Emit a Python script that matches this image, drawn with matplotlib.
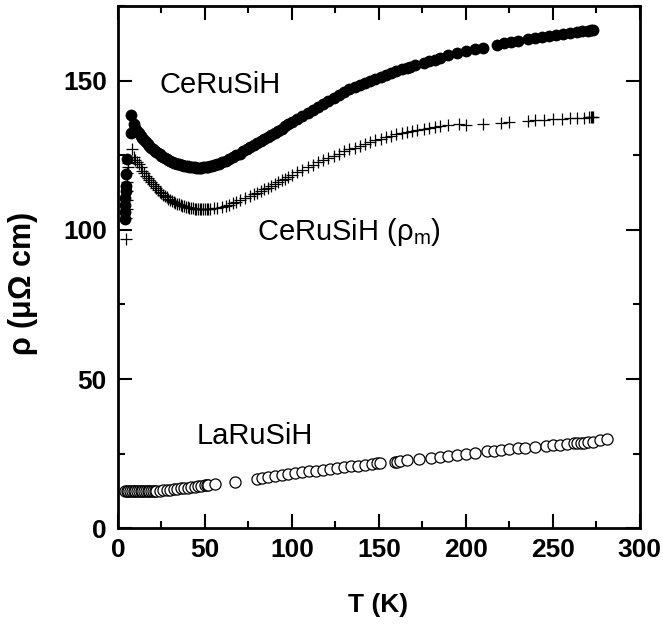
import matplotlib
matplotlib.use("Agg")
import matplotlib.pyplot as plt
from matplotlib.ticker import MultipleLocator

# CeRuSiH, total resistivity (filled circles)
ce_T = [4.0, 4.1, 4.2, 4.3, 4.4, 4.6, 4.8, 5.2, 7.2, 7.6,
        9, 10, 11, 12, 13, 14, 15, 16, 17, 18, 19, 20, 21, 22, 23, 24, 25,
        26, 27, 28, 29, 30, 31, 32, 33, 34, 35, 36, 37, 38, 39, 40, 41, 42,
        43, 44, 45, 46, 47, 48, 49, 50, 51, 52, 53, 54, 55, 56, 57, 58, 60,
        62, 64, 66, 68, 70, 72, 74, 76, 78, 80, 82, 84, 86, 88, 90, 92, 94,
        96, 98, 100, 103, 106, 109, 112, 115, 118, 121, 124, 127, 130, 133,
        136, 139, 142, 145, 148, 151, 154, 157, 160, 163, 166, 168, 171, 176,
        179, 182, 185, 190, 195, 200, 205, 210, 218, 222, 226, 230, 236, 240,
        244, 248, 252, 256, 260, 264, 267, 270, 272, 273]
ce_rho = [103.8, 106.0, 108.5, 110.8, 113.0, 114.8, 118.8, 123.9, 132.6, 138.5,
          135.5, 134.3, 133.3, 132.4, 131.6, 130.8, 130.1, 129.4, 128.8, 128.2,
          127.6, 127.1, 126.6, 126.1, 125.7, 125.3, 124.9, 124.5, 124.1, 123.8,
          123.5, 123.2, 122.9, 122.6, 122.4, 122.2, 122.0, 121.8, 121.6, 121.5,
          121.4, 121.3, 121.2, 121.1, 121.0, 121.0, 120.9, 120.9, 120.9, 120.9,
          121.0, 121.0, 121.1, 121.2, 121.3, 121.5, 121.6, 121.8, 122.0, 122.2,
          122.7, 123.2, 123.8, 124.4, 125.0, 125.6, 126.3, 127.0, 127.7, 128.4,
          129.1, 129.8, 130.5, 131.2, 131.9, 132.6, 133.3, 134.0, 134.7, 135.4,
          136.1, 137.1, 138.2, 139.2, 140.3, 141.3, 142.3, 143.3, 144.3, 145.3,
          146.2, 147.1, 147.9, 148.7, 149.4, 150.0, 150.7, 151.4, 152.0, 152.6,
          153.2, 153.8, 154.3, 154.7, 155.2, 156.1, 156.7, 157.1, 157.6, 158.5,
          159.3, 160.0, 160.6, 161.1, 162.1, 162.6, 163.0, 163.4, 163.9, 164.3,
          164.7, 165.1, 165.4, 165.7, 166.0, 166.3, 166.6, 166.8, 167.0, 167.1]

# CeRuSiH, magnetic contribution rho_m (crosses)
rm_T = [4.6, 4.8, 5.0, 5.1, 5.2, 5.3, 5.4, 5.6, 5.8,
        8, 9, 10, 11, 12, 13, 14, 15, 16, 17, 18, 19, 20, 21, 22, 23, 24, 25,
        26, 27, 28, 29, 30, 31, 32, 33, 34, 35, 36, 37, 38, 39, 40, 41, 42,
        43, 44, 45, 46, 47, 48, 49, 50, 51, 52, 53, 55, 57, 60, 62, 64, 66,
        68, 70, 73, 76, 78, 80, 82, 84, 86, 88, 90, 92, 94, 96, 98, 100, 103,
        106, 109, 112, 115, 118, 121, 124, 127, 130, 133, 136, 139, 142, 145,
        148, 151, 154, 157, 160, 163, 166, 169, 172, 176, 179, 182, 185, 190,
        196, 200, 210, 220, 225, 236, 240, 245, 250, 255, 260, 264, 268, 271,
        272, 272.5, 273]
rm_rho = [97.0, 104.0, 107.0, 110.0, 113.0, 116.0, 119.0, 121.0, 122.5,
          127.0, 124.5, 123.5, 122.8, 122.0, 121.0, 119.8, 119.0, 118.2, 117.4,
          116.7, 116.0, 115.3, 114.7, 114.0, 113.4, 112.8, 112.3, 111.8, 111.3,
          110.9, 110.5, 110.1, 109.8, 109.4, 109.1, 108.8, 108.6, 108.3, 108.1,
          107.9, 107.7, 107.6, 107.4, 107.3, 107.2, 107.1, 107.0, 107.0, 106.9,
          106.9, 106.9, 106.9, 106.9, 107.0, 107.0, 107.2, 107.4, 107.8, 108.1,
          108.5, 108.9, 109.4, 109.9, 110.7, 111.4, 111.9, 112.4, 113.0, 113.6,
          114.2, 114.8, 115.4, 116.0, 116.6, 117.2, 117.8, 118.4, 119.3, 120.2,
          121.0, 121.9, 122.7, 123.5, 124.2, 124.9, 125.6, 126.3, 127.0, 127.6,
          128.2, 128.8, 129.4, 130.0, 130.5, 131.0, 131.5, 132.0, 132.4, 132.8,
          133.2, 133.5, 133.9, 134.2, 134.5, 134.8, 135.2, 135.6, 135.3, 135.6,
          136.0, 136.2, 136.6, 136.8, 137.0, 137.1, 137.3, 137.4, 137.5, 137.6,
          137.7, 137.8, 137.8, 137.8]

# LaRuSiH (open circles)
la_T = [4, 5, 6, 7, 8, 9, 10, 11, 12, 13, 14, 15, 16, 17, 18, 19, 20, 21,
        22, 24, 26, 28, 30, 32, 34, 36, 38, 40, 42, 44, 46, 48, 50, 51, 52,
        55.5, 67, 80, 83, 86, 90, 94, 98, 102, 106, 110, 114, 118, 122, 126,
        130, 134, 138, 142, 146, 149, 150.5, 159, 160.5, 162, 166, 173, 180,
        185, 190, 195, 200, 205, 212, 216, 220, 225, 230, 234, 240, 246, 250,
        254, 258, 262, 264, 266, 268, 270, 273, 277, 281]
la_rho = [12.3, 12.3, 12.3, 12.3, 12.3, 12.3, 12.3, 12.3, 12.4, 12.4, 12.4,
          12.4, 12.4, 12.4, 12.5, 12.5, 12.5, 12.5, 12.6, 12.6, 12.7, 12.8,
          12.9, 13.0, 13.1, 13.3, 13.4, 13.5, 13.7, 13.8, 14.0, 14.1, 14.3,
          14.4, 14.4, 14.8, 15.6, 16.6, 16.9, 17.2, 17.5, 17.8, 18.1, 18.4,
          18.7, 19.0, 19.3, 19.6, 19.9, 20.2, 20.4, 20.7, 21.0, 21.2, 21.5,
          21.7, 21.8, 22.2, 22.3, 22.4, 22.7, 23.2, 23.6, 24.0, 24.3, 24.6,
          24.9, 25.2, 25.7, 25.9, 26.2, 26.5, 26.8, 27.0, 27.3, 27.6, 27.8,
          28.0, 28.2, 28.4, 28.5, 28.6, 28.7, 28.8, 29.0, 29.4, 29.8]

labels = ["CeRuSiH", "CeRuSiH ($\\mathregular{\\rho_m}$)", "LaRuSiH"]
label_pos = [(24, 146), (80, 96.5), (45, 28.3)]


def setup_style():
    plt.rcParams["font.family"] = ["Liberation Sans", "DejaVu Sans"]
    plt.rcParams["mathtext.fontset"] = "custom"
    plt.rcParams["mathtext.rm"] = "Liberation Sans"
    plt.rcParams["mathtext.it"] = "Liberation Sans"
    plt.rcParams["axes.linewidth"] = 2.0


def draw(ax):
    ax.plot(la_T, la_rho, "o", ms=8, mfc="white", mec="black", mew=0.9)
    ax.plot(rm_T, rm_rho, "+", ms=8.5, color="black", mew=0.9)
    ax.plot(ce_T, ce_rho, "o", ms=8.5, color="black", mew=0)

    for text, (x, y) in zip(labels, label_pos):
        ax.text(x, y, text, fontsize=21)

    ax.set_xlim(0, 300)
    ax.set_ylim(0, 175)
    ax.xaxis.set_major_locator(MultipleLocator(50))
    ax.xaxis.set_minor_locator(MultipleLocator(25))
    ax.yaxis.set_major_locator(MultipleLocator(50))
    ax.yaxis.set_minor_locator(MultipleLocator(25))
    ax.tick_params(which="both", direction="in", top=True, right=True, width=1.5)
    ax.tick_params(which="major", length=10)
    ax.tick_params(which="minor", length=5)
    ax.tick_params(axis="x", pad=7)
    ax.tick_params(axis="y", pad=8)
    for lab in ax.get_xticklabels() + ax.get_yticklabels():
        lab.set_fontsize(19)
        lab.set_fontweight("bold")

    ax.set_xlabel("T (K)", fontsize=19, fontweight="bold")
    ax.set_ylabel("$\\mathregular{\\rho}$ (μΩ cm)", fontsize=22, fontweight="bold")
    ax.xaxis.set_label_coords(0.498, -0.125)
    ax.yaxis.set_label_coords(-0.149, 0.467)


def main():
    setup_style()
    fig = plt.figure(figsize=(6.63, 6.25), dpi=100)
    ax = fig.add_axes([0.178, 0.155, 0.787, 0.835])
    draw(ax)
    fig.savefig("out.png", dpi=100)


if __name__ == "__main__":
    main()
